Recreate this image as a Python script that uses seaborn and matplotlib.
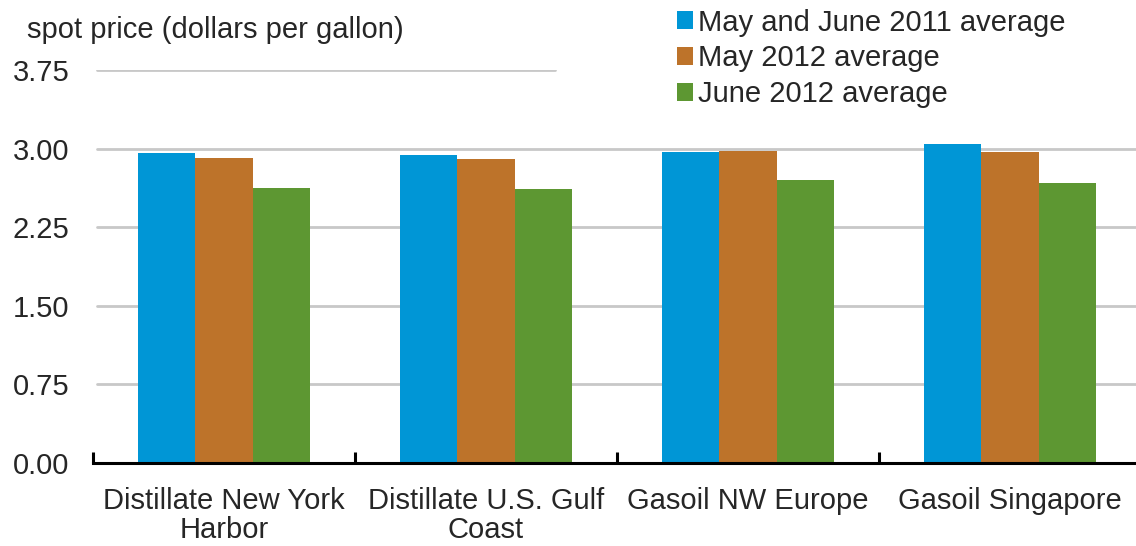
import matplotlib
matplotlib.use('Agg')
import matplotlib.pyplot as plt
import seaborn as sns
import pandas as pd
from matplotlib.ticker import FixedLocator

markets = ["Distillate New York\nHarbor", "Distillate U.S. Gulf\nCoast", "Gasoil NW Europe", "Gasoil Singapore"]
series_names = ["May and June 2011 average", "May 2012 average", "June 2012 average"]
avg_2011 = [2.96, 2.94, 2.97, 3.04]
may_2012 = [2.91, 2.90, 2.98, 2.97]
june_2012 = [2.62, 2.61, 2.70, 2.67]
colors = ["#0096D6", "#BD732A", "#5D9732"]
yticks = [0.00, 0.75, 1.50, 2.25, 3.00, 3.75]

rows = []
for name, vals in zip(series_names, [avg_2011, may_2012, june_2012]):
    for m, v in zip(markets, vals):
        rows.append({"market": m, "series": name, "price": v})
df = pd.DataFrame(rows)

sns.set_style("white")
plt.rcParams['font.family'] = ['Liberation Sans', 'DejaVu Sans']

W, H = 1136, 546
fig = plt.figure(figsize=(W / 100, H / 100), dpi=100)
ax = fig.add_axes([93 / W, 1 - 463 / H, (1141 - 93) / W, (463 - 70) / H])

sns.barplot(data=df, x="market", y="price", hue="series", order=markets,
            hue_order=series_names, palette=colors, width=0.66,
            linewidth=0, saturation=1, ax=ax, legend=True)

ax.set_xlim(-0.5, 3.5)
ax.set_ylim(0, 3.75)

# gridlines (top one stops short where the legend sits)
for y in yticks[1:]:
    xmax = (555 - 93) / (1141 - 93) if y == 3.75 else 1
    ax.axhline(y, xmin=4 / 1048, xmax=xmax, color="#c8c8c8", lw=2, zorder=0)

ax.set_yticks(yticks)
ax.set_yticklabels([f"{t:.2f}" for t in yticks])
ax.tick_params(axis="y", length=0, pad=17, labelsize=21)
ax.tick_params(axis="x", which="major", bottom=True, length=0, pad=17, labelsize=21)
for lbl in ax.get_xticklabels():
    lbl.set_linespacing(1.05)
ax.xaxis.set_minor_locator(FixedLocator([-0.5, 0.5, 1.5, 2.5, 3.5]))
ax.tick_params(axis="x", which="minor", bottom=True, direction="in", length=8,
               width=2.2, color="black")
ax.set_xlabel("")
ax.set_ylabel("")

for s in ["top", "right", "left"]:
    ax.spines[s].set_visible(False)
ax.spines["bottom"].set_color("black")
ax.spines["bottom"].set_linewidth(2.2)

fig.text(27 / W, 1 - 30 / H, "spot price (dollars per gallon)", fontsize=21,
         ha="left", va="center")

handles, labels = ax.get_legend_handles_labels()
ax.legend(handles, labels, loc="upper left", bbox_to_anchor=(662 / W, 1 + 6 / H),
          bbox_transform=fig.transFigure, frameon=False, fontsize=21,
          borderpad=0, handlelength=0.55, handleheight=0.55, handletextpad=0.2,
          labelspacing=0.27)

fig.savefig("out.png", dpi=100)
